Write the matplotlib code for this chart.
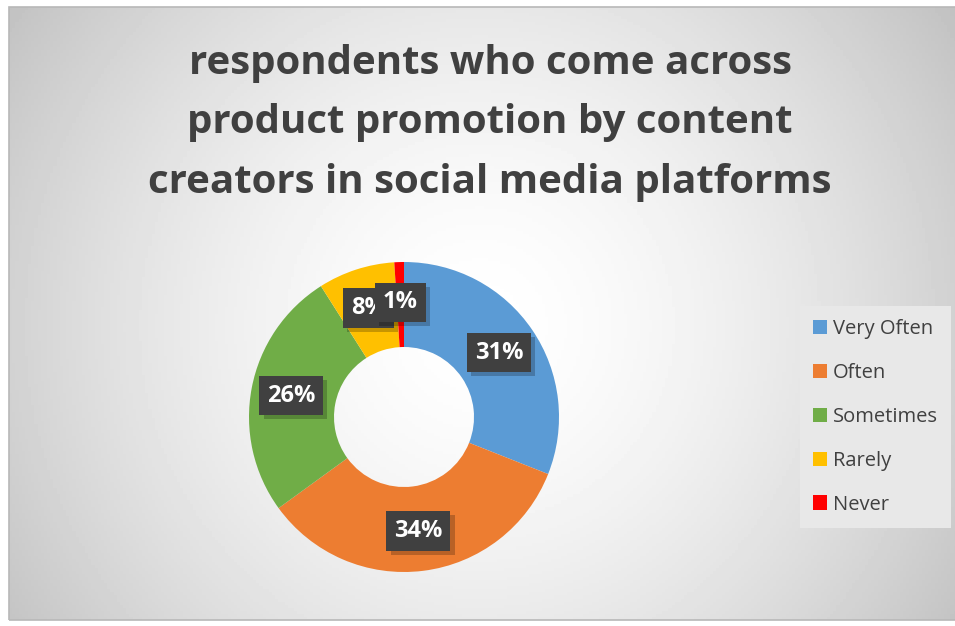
import numpy as np
import matplotlib.pyplot as plt
from matplotlib.patches import Rectangle
import matplotlib.patheffects as pe

plt.rcParams["font.family"] = ["Open Sans", "DejaVu Sans"]

# ---- DATA ----
categories = ["Very Often", "Often", "Sometimes", "Rarely", "Never"]
shares = [31, 34, 26, 8, 1]
colors = ["#5B9BD5", "#ED7D31", "#70AD47", "#FFC000", "#FF0000"]
title = ("respondents who come across\n"
         "product promotion by content\n"
         "creators in social media platforms")

W, H = 955, 626
fig = plt.figure(figsize=(W / 100, H / 100), dpi=100)
ax = fig.add_axes([0, 0, 1, 1])
ax.set_xlim(0, W)
ax.set_ylim(0, H)
ax.axis("off")

# chart area with a soft radial gradient
x0, y0, x1, y1 = 9, 6, W + 5, H - 7
gx, gy = np.meshgrid(np.linspace(x0, x1, 300), np.linspace(y0, y1, 200))
r = np.hypot(gx - 480, gy - 300) / 570
shade = np.clip(1 - 0.24 * r ** 1.6, 0, 1)
ax.imshow(shade, cmap="gray", vmin=0, vmax=1, extent=[x0, x1, y0, y1],
          origin="lower", aspect="auto", zorder=0)
ax.add_patch(Rectangle((x0, y0), x1 - x0, y1 - y0, fill=False,
                       edgecolor="#b8b8b8", lw=1.2, zorder=1))

ax.text(490, H - 123, title, ha="center", va="center", fontsize=29,
        fontweight="bold", color="#404040", linespacing=1.68)

# donut
cx, cy, R = 404, H - 417, 155
wedges, _, autotexts = ax.pie(
    shares, colors=colors, startangle=90, counterclock=False,
    center=(cx, cy), radius=R, autopct="%1.0f%%", pctdistance=0.74,
    wedgeprops=dict(width=85, edgecolor="none"), frame=True)
ax.set_xlim(0, W)
ax.set_ylim(0, H)
ax.axis("off")

for t in autotexts:
    t.set_color("white")
    t.set_fontweight("bold")
    t.set_fontsize(17)
    t.set_bbox(dict(boxstyle="square,pad=0.33", facecolor="#404040",
                    edgecolor="none"))
    t.get_bbox_patch().set_path_effects(
        [pe.SimplePatchShadow(offset=(3, -3), shadow_rgbFace="black", alpha=0.22),
         pe.Normal()])

leg = ax.legend(wedges, categories, loc="center left",
                bbox_to_anchor=(800 / W, (H - 417) / H), borderaxespad=0,
                fontsize=14.5, frameon=True, facecolor="#e8e8e8",
                edgecolor="none", framealpha=1, fancybox=False,
                handlelength=0.7, handleheight=0.7, handletextpad=0.3,
                labelspacing=1.18, borderpad=0.65)
for txt in leg.get_texts():
    txt.set_color("#404040")

fig.savefig("out.png", dpi=100, facecolor="white")
